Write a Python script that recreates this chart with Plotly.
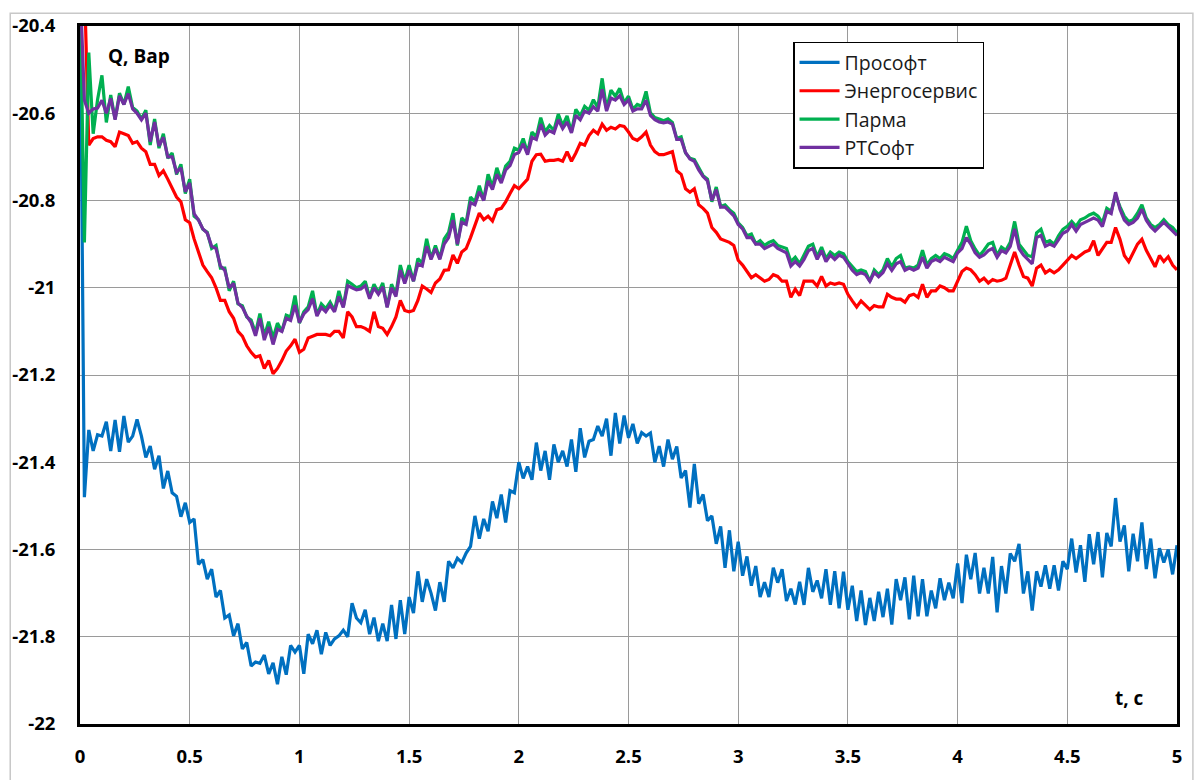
import numpy as np
import plotly.graph_objects as go

# Time base: samples every 0.02 s over 0..5 s
t = np.round(np.arange(251) * 0.02, 2)

# Reactive power Q, var, per software package
prosoft = [
    -20.30,
    -21.48, -21.326, -21.374, -21.337, -21.34, -21.307, -21.374, -21.303, -21.376, -21.294,
    -21.354, -21.34, -21.302, -21.34, -21.389, -21.363, -21.416, -21.385, -21.46, -21.42,
    -21.47, -21.478, -21.525, -21.493, -21.538, -21.53, -21.634, -21.623, -21.668, -21.645,
    -21.709, -21.694, -21.757, -21.75, -21.798, -21.77, -21.828, -21.813, -21.867, -21.858,
    -21.861, -21.842, -21.885, -21.86, -21.909, -21.846, -21.887, -21.82, -21.835, -21.82,
    -21.885, -21.794, -21.816, -21.785, -21.84, -21.79, -21.82, -21.805, -21.798, -21.785,
    -21.8, -21.723, -21.757, -21.768, -21.738, -21.794, -21.756, -21.81, -21.77, -21.81,
    -21.727, -21.805, -21.716, -21.794, -21.709, -21.746, -21.65, -21.72, -21.668, -21.70,
    -21.74, -21.675, -21.72, -21.627, -21.642, -21.62, -21.63, -21.608, -21.593, -21.523,
    -21.575, -21.53, -21.558, -21.49, -21.528, -21.474, -21.538, -21.465, -21.47, -21.4,
    -21.437, -21.41, -21.44, -21.355, -21.419, -21.374, -21.44, -21.359, -21.4, -21.374,
    -21.41, -21.348, -21.422, -21.322, -21.389, -21.352, -21.348, -21.317, -21.34, -21.3,
    -21.385, -21.287, -21.357, -21.293, -21.344, -21.312, -21.357, -21.332, -21.34, -21.333,
    -21.4, -21.363, -21.41, -21.348, -21.393, -21.364, -21.436, -21.419, -21.504, -21.404,
    -21.495, -21.474, -21.534, -21.523, -21.587, -21.547, -21.642, -21.556, -21.65, -21.582,
    -21.66, -21.616, -21.683, -21.638, -21.709, -21.675, -21.709, -21.642, -21.676, -21.645,
    -21.718, -21.69, -21.726, -21.674, -21.727, -21.642, -21.697, -21.671, -21.712, -21.645,
    -21.727, -21.65, -21.735, -21.651, -21.738, -21.683, -21.764, -21.694, -21.773, -21.711,
    -21.764, -21.697, -21.755, -21.69, -21.772, -21.668, -21.716, -21.664, -21.76, -21.66,
    -21.753, -21.668, -21.753, -21.694, -21.735, -21.666, -21.716, -21.676, -21.712, -21.632,
    -21.723, -21.612, -21.668, -21.608, -21.701, -21.642, -21.701, -21.617, -21.744, -21.638,
    -21.701, -21.609, -21.627, -21.587, -21.701, -21.65, -21.74, -21.65, -21.685, -21.636,
    -21.69, -21.636, -21.694, -21.627, -21.645, -21.575, -21.653, -21.59, -21.674, -21.565,
    -21.634, -21.56, -21.664, -21.562, -21.593, -21.482, -21.582, -21.545, -21.65, -21.564,
    -21.627, -21.538, -21.645, -21.575, -21.666, -21.597, -21.63, -21.6, -21.657, -21.59,
]

energoservis = [
    -20.30, -20.30,
    -20.673, -20.658, -20.654, -20.654, -20.662, -20.665, -20.677, -20.643, -20.647,
    -20.651, -20.669, -20.665, -20.68, -20.688, -20.717, -20.717, -20.743, -20.732, -20.751,
    -20.77, -20.792, -20.803, -20.844, -20.851, -20.888, -20.918, -20.948, -20.963, -20.977,
    -21.0, -21.029, -21.029, -21.055, -21.07, -21.1, -21.111, -21.133, -21.148, -21.159,
    -21.156, -21.185, -21.167, -21.197, -21.185, -21.167, -21.145, -21.133, -21.118, -21.148,
    -21.141, -21.115, -21.111, -21.107, -21.107, -21.107, -21.11, -21.1, -21.1, -21.115,
    -21.055, -21.067, -21.089, -21.089, -21.093, -21.1, -21.055, -21.089, -21.093, -21.107,
    -21.089, -21.067, -21.029, -21.052, -21.055, -21.052, -21.029, -20.996, -21.003, -21.011,
    -20.989, -20.98, -20.96, -20.959, -20.925, -20.944, -20.918, -20.91, -20.885, -20.855,
    -20.829, -20.844, -20.836, -20.847, -20.821, -20.818, -20.803, -20.784, -20.766, -20.773,
    -20.762, -20.751, -20.71, -20.695, -20.694, -20.71, -20.708, -20.708, -20.706, -20.71,
    -20.688, -20.71, -20.691, -20.669, -20.673, -20.651, -20.639, -20.647, -20.625, -20.639,
    -20.632, -20.636, -20.628, -20.63, -20.643, -20.658, -20.662, -20.654, -20.643, -20.673,
    -20.688, -20.695, -20.695, -20.691, -20.688, -20.732, -20.74, -20.773, -20.781, -20.773,
    -20.81, -20.818, -20.829, -20.862, -20.873, -20.888, -20.892, -20.896, -20.903, -20.937,
    -20.948, -20.963, -20.977, -20.97, -20.977, -20.985, -20.981, -20.97, -20.974, -20.985,
    -20.985, -21.022, -21.003, -21.018, -20.985, -20.985, -20.985, -20.996, -20.974, -20.996,
    -20.989, -20.992, -20.989, -20.992, -21.015, -21.03, -21.044, -21.03, -21.041, -21.05,
    -21.041, -21.044, -21.044, -21.015, -21.022, -21.026, -21.026, -21.033, -21.018, -21.015,
    -21.022, -20.992, -21.022, -21.007, -21.007, -20.996, -21.0, -21.007, -21.007, -20.985,
    -20.963, -20.955, -20.959, -20.97, -20.985, -20.978, -20.989, -20.981, -20.985, -20.983,
    -20.978, -20.948, -20.918, -20.948, -20.974, -20.978, -20.996, -20.955, -20.948, -20.966,
    -20.959, -20.966, -20.959, -20.948, -20.937, -20.926, -20.933, -20.926, -20.918, -20.914,
    -20.892, -20.926, -20.911, -20.896, -20.896, -20.862, -20.889, -20.926, -20.94, -20.918,
    -20.9, -20.889, -20.914, -20.933, -20.952, -20.926, -20.94, -20.929, -20.948, -20.959,
]

parma = [
    -20.30,
    -20.896, -20.461, -20.647, -20.569, -20.513, -20.621, -20.558, -20.613, -20.554, -20.58,
    -20.539, -20.587, -20.595, -20.613, -20.593, -20.673, -20.613, -20.68, -20.647, -20.703,
    -20.691, -20.74, -20.717, -20.784, -20.751, -20.836, -20.844, -20.866, -20.873, -20.91,
    -20.903, -20.955, -20.955, -21.007, -20.985, -21.037, -21.041, -21.067, -21.074, -21.104,
    -21.059, -21.111, -21.078, -21.115, -21.081, -21.1, -21.063, -21.067, -21.018, -21.081,
    -21.055, -21.044, -21.007, -21.063, -21.037, -21.048, -21.033, -21.052, -21.007, -21.044,
    -20.985, -20.992, -21.0, -20.996, -20.985, -21.022, -20.992, -21.011, -20.989, -21.044,
    -20.992, -21.015, -20.948, -20.985, -20.948, -20.985, -20.933, -20.944, -20.888, -20.933,
    -20.903, -20.933, -20.888, -20.873, -20.829, -20.903, -20.84, -20.851, -20.792, -20.803,
    -20.766, -20.799, -20.74, -20.769, -20.725, -20.755, -20.721, -20.71, -20.68, -20.684,
    -20.658, -20.691, -20.643, -20.654, -20.61, -20.643, -20.628, -20.639, -20.602, -20.628,
    -20.606, -20.643, -20.591, -20.606, -20.584, -20.593, -20.569, -20.587, -20.52, -20.591,
    -20.547, -20.561, -20.543, -20.576, -20.561, -20.591, -20.58, -20.584, -20.55, -20.599,
    -20.61, -20.613, -20.617, -20.613, -20.621, -20.658, -20.654, -20.691, -20.703, -20.706,
    -20.725, -20.743, -20.751, -20.803, -20.769, -20.814, -20.81, -20.821, -20.829, -20.851,
    -20.862, -20.881, -20.877, -20.899, -20.892, -20.903, -20.896, -20.892, -20.903, -20.907,
    -20.91, -20.94, -20.93, -20.945, -20.925, -20.905, -20.9, -20.929, -20.907, -20.933,
    -20.918, -20.926, -20.918, -20.922, -20.94, -20.952, -20.963, -20.959, -20.963, -20.985,
    -20.959, -20.97, -20.959, -20.933, -20.952, -20.933, -20.926, -20.955, -20.952, -20.955,
    -20.948, -20.914, -20.948, -20.933, -20.926, -20.933, -20.922, -20.926, -20.933, -20.914,
    -20.896, -20.859, -20.892, -20.911, -20.926, -20.914, -20.9, -20.896, -20.926, -20.907,
    -20.914, -20.896, -20.848, -20.9, -20.914, -20.926, -20.929, -20.874, -20.866, -20.896,
    -20.892, -20.9, -20.881, -20.866, -20.859, -20.848, -20.859, -20.844, -20.84, -20.833,
    -20.829, -20.836, -20.851, -20.818, -20.825, -20.788, -20.814, -20.836, -20.848, -20.844,
    -20.829, -20.81, -20.84, -20.855, -20.862, -20.855, -20.844, -20.855, -20.862, -20.874,
]

rtsoft = [
    -20.30,
    -20.57, -20.60, -20.59, -20.588, -20.57, -20.60, -20.566, -20.615, -20.56, -20.58,
    -20.555, -20.59, -20.6, -20.615, -20.6, -20.665, -20.62, -20.675, -20.655, -20.70,
    -20.70, -20.735, -20.725, -20.78, -20.76, -20.83, -20.845, -20.865, -20.875, -20.905,
    -20.91, -20.95, -20.96, -21.0, -20.99, -21.035, -21.045, -21.065, -21.08, -21.11,
    -21.07, -21.12, -21.09, -21.13, -21.095, -21.1, -21.07, -21.075, -21.04, -21.08,
    -21.06, -21.05, -21.025, -21.065, -21.045, -21.055, -21.04, -21.055, -21.02, -21.045,
    -20.995, -21.0, -21.005, -21.003, -20.995, -21.025, -21.0, -21.015, -20.998, -21.045,
    -21.0, -21.02, -20.96, -20.99, -20.96, -20.985, -20.945, -20.95, -20.905, -20.935,
    -20.91, -20.935, -20.9, -20.885, -20.845, -20.9, -20.85, -20.855, -20.805, -20.81,
    -20.78, -20.8, -20.755, -20.775, -20.74, -20.76, -20.73, -20.72, -20.695, -20.69,
    -20.67, -20.695, -20.655, -20.66, -20.625, -20.65, -20.64, -20.645, -20.615, -20.635,
    -20.62, -20.645, -20.605, -20.615, -20.595, -20.6, -20.585, -20.595, -20.545, -20.595,
    -20.565, -20.57, -20.56, -20.58, -20.57, -20.595, -20.59, -20.59, -20.57, -20.605,
    -20.615, -20.62, -20.622, -20.62, -20.625, -20.66, -20.66, -20.69, -20.705, -20.71,
    -20.73, -20.745, -20.755, -20.8, -20.775, -20.815, -20.815, -20.825, -20.835, -20.855,
    -20.865, -20.885, -20.885, -20.9, -20.9, -20.91, -20.905, -20.9, -20.91, -20.915,
    -20.92, -20.95, -20.94, -20.95, -20.935, -20.915, -20.91, -20.935, -20.915, -20.94,
    -20.925, -20.935, -20.925, -20.93, -20.945, -20.96, -20.97, -20.965, -20.97, -20.985,
    -20.965, -20.975, -20.965, -20.945, -20.96, -20.945, -20.94, -20.96, -20.955, -20.96,
    -20.955, -20.93, -20.955, -20.94, -20.935, -20.94, -20.93, -20.935, -20.94, -20.92,
    -20.91, -20.885, -20.9, -20.92, -20.93, -20.925, -20.915, -20.91, -20.93, -20.915,
    -20.92, -20.905, -20.865, -20.91, -20.925, -20.935, -20.945, -20.885, -20.88, -20.905,
    -20.9, -20.905, -20.89, -20.875, -20.87, -20.855, -20.87, -20.855, -20.85, -20.845,
    -20.84, -20.845, -20.86, -20.825, -20.83, -20.781, -20.82, -20.845, -20.855, -20.85,
    -20.84, -20.82, -20.845, -20.86, -20.87, -20.86, -20.85, -20.86, -20.87, -20.88,
]

series_names = ["Прософт", "Энергосервис", "Парма", "РТСофт"]
series_values = [prosoft, energoservis, parma, rtsoft]
series_colors = ["#0070C0", "#FF0000", "#00B050", "#7030A0"]

x_tick_vals = [0, 0.5, 1, 1.5, 2, 2.5, 3, 3.5, 4, 4.5, 5]
x_tick_text = ["0", "0.5", "1", "1.5", "2", "2.5", "3", "3.5", "4", "4.5", "5"]
y_tick_vals = [-22, -21.8, -21.6, -21.4, -21.2, -21, -20.8, -20.6, -20.4]
y_tick_text = ["-22", "-21.8", "-21.6", "-21.4", "-21.2", "-21", "-20.8", "-20.6", "-20.4"]

FONT = "Open Sans"

fig = go.Figure()
for name, vals, color in zip(series_names, series_values, series_colors):
    fig.add_trace(go.Scatter(
        x=t, y=vals, name=name, mode="lines",
        line=dict(color=color, width=3.2),
    ))

axis_common = dict(
    showgrid=True, gridcolor="#9A9A9A", gridwidth=1.3,
    showline=True, linecolor="black", linewidth=3, mirror=True,
    ticks="", zeroline=False,
    tickfont=dict(family=FONT, size=18.5, color="black", weight="bold"),
)

fig.update_layout(
    width=1197, height=780,
    margin=dict(l=77, r=20, t=21, b=42),
    paper_bgcolor="white", plot_bgcolor="white",
    xaxis=dict(range=[0, 5], tickmode="array", tickvals=x_tick_vals,
               ticktext=x_tick_text, ticklabelstandoff=14, **axis_common),
    yaxis=dict(range=[-22, -20.4], tickmode="array", tickvals=y_tick_vals,
               ticktext=y_tick_text, ticklabelstandoff=18, **axis_common),
    legend=dict(
        x=0.65, y=0.9775, xanchor="left", yanchor="top",
        bgcolor="white", bordercolor="black", borderwidth=1.5,
        font=dict(family=FONT, size=19.5, color="#1a1a1a"),
        tracegroupgap=0, itemwidth=40,
    ),
    showlegend=True,
    annotations=[
        dict(text="Q, Вар", xref="paper", yref="paper", x=0.0536, y=0.9568,
             showarrow=False, xanchor="center", yanchor="middle",
             font=dict(family=FONT, size=19, color="black", weight="bold")),
        dict(text="t, с", xref="paper", yref="paper", x=0.957, y=0.0377,
             showarrow=False, xanchor="center", yanchor="middle",
             font=dict(family=FONT, size=19, color="black", weight="bold")),
    ],
    shapes=[
        dict(type="rect", xref="paper", yref="paper",
             x0=-0.0636, x1=1.0145, y0=-0.2, y1=1.0181,
             line=dict(color="#C8C8C8", width=1.5), layer="below"),
    ],
)

fig.write_html("out.html")
